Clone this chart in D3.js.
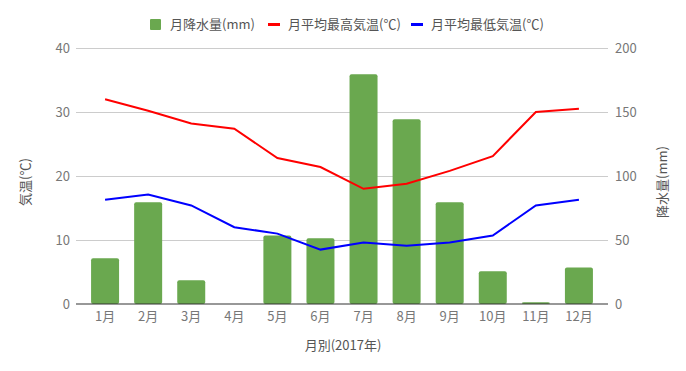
<!DOCTYPE html>
<html><head><meta charset="utf-8">
<script src="https://cdn.jsdelivr.net/npm/d3@7"></script>
<style>
body{margin:0;background:#fff;}
text{font-family:"Noto Sans CJK JP","Noto Sans",sans-serif;}
</style></head>
<body><svg id="c" width="686" height="371"></svg>
<script>
const months = ["1月","2月","3月","4月","5月","6月","7月","8月","9月","10月","11月","12月"];
const precip = [35.7, 79.4, 18.5, 0, 53.6, 51.3, 179.4, 144.3, 79.4, 25.5, 1.3, 28.6];
const maxTemp = [32.0, 30.2, 28.2, 27.4, 22.8, 21.4, 18.0, 18.8, 20.8, 23.1, 30.0, 30.5];
const minTemp = [16.3, 17.1, 15.4, 12.0, 11.0, 8.5, 9.6, 9.1, 9.6, 10.7, 15.4, 16.3];
const tempTicks = [0, 10, 20, 30, 40];
const precipTicks = [0, 50, 100, 150, 200];
const legendLabels = ["月降水量(mm)", "月平均最高気温(℃)", "月平均最低気温(℃)"];
const colors = {bar:"#6aa84f", max:"#ff0000", min:"#0000ff"};

const svg = d3.select("#c");
const L = 76, R = 608, T = 48, B = 304;
const x = d3.scaleBand().domain(months).range([L, R]).paddingInner(0.35).paddingOuter(0.35);
const yT = d3.scaleLinear().domain([0, 40]).range([B, T]);
const yP = d3.scaleLinear().domain([0, 200]).range([B, T]);

// gridlines
svg.append("g").selectAll("line").data(tempTicks.filter(d=>d>0)).join("line")
  .attr("x1", L).attr("x2", R).attr("y1", d=>yT(d)).attr("y2", d=>yT(d))
  .attr("stroke", "#cccccc").attr("stroke-width", 1).attr("shape-rendering","crispEdges");

// left axis
const la = svg.append("g").attr("transform", `translate(${L},0)`)
  .call(d3.axisLeft(yT).tickValues(tempTicks).tickSize(0).tickPadding(6));
la.select(".domain").remove();
la.selectAll("text").attr("fill", "#777").style("font-size", "13px").attr("font-family", null);

// right axis
const ra = svg.append("g").attr("transform", `translate(${R},0)`)
  .call(d3.axisRight(yP).tickValues(precipTicks).tickSize(0).tickPadding(7));
ra.select(".domain").remove();
ra.selectAll("text").attr("fill", "#777").style("font-size", "13px").attr("font-family", null);

// bars
svg.append("g").selectAll("rect").data(precip).join("rect")
  .attr("x", (d,i)=>x(months[i])).attr("width", x.bandwidth())
  .attr("y", d=>yP(d)).attr("height", d=>B - yP(d))
  .attr("rx", 2).attr("fill", colors.bar);

// baseline
svg.append("line").attr("x1", L).attr("x2", R).attr("y1", B).attr("y2", B)
  .attr("stroke", "#333").attr("stroke-width", 1.2);

// bottom axis
const ba = svg.append("g").attr("transform", `translate(0,${B})`)
  .call(d3.axisBottom(x).tickSize(0).tickPadding(8));
ba.select(".domain").remove();
ba.selectAll("text").attr("fill", "#777").style("font-size", "13px").attr("font-family", null);

// lines
const cx = i => x(months[i]) + x.bandwidth()/2;
const lineGen = d3.line().x((d,i)=>cx(i)).y(d=>yT(d));
svg.append("path").datum(maxTemp).attr("d", lineGen).attr("fill","none")
  .attr("stroke", colors.max).attr("stroke-width", 2);
svg.append("path").datum(minTemp).attr("d", lineGen).attr("fill","none")
  .attr("stroke", colors.min).attr("stroke-width", 2);

// axis titles
svg.append("text").attr("transform", "translate(30,182) rotate(-90)")
  .attr("text-anchor","middle").attr("fill","#555").style("font-size","13px").text("気温(℃)");
svg.append("text").attr("transform", "translate(667,182) rotate(-90)")
  .attr("text-anchor","middle").attr("fill","#555").style("font-size","13px").text("降水量(mm)");
svg.append("text").attr("x", 343).attr("y", 350)
  .attr("text-anchor","middle").attr("fill","#555").style("font-size","13px").text("月別(2017年)");

// legend
const lg = svg.append("g");
lg.append("rect").attr("x",150).attr("y",19).attr("width",11).attr("height",11).attr("rx",1).attr("fill",colors.bar);
lg.append("text").attr("x",170).attr("y",29).attr("fill","#555").style("font-size","13px").text(legendLabels[0]);
lg.append("rect").attr("x",268).attr("y",23).attr("width",12).attr("height",3).attr("fill",colors.max);
lg.append("text").attr("x",288).attr("y",29).attr("fill","#555").style("font-size","13px").text(legendLabels[1]);
lg.append("rect").attr("x",411).attr("y",23).attr("width",12).attr("height",3).attr("fill",colors.min);
lg.append("text").attr("x",431).attr("y",29).attr("fill","#555").style("font-size","13px").text(legendLabels[2]);
</script></body></html>
